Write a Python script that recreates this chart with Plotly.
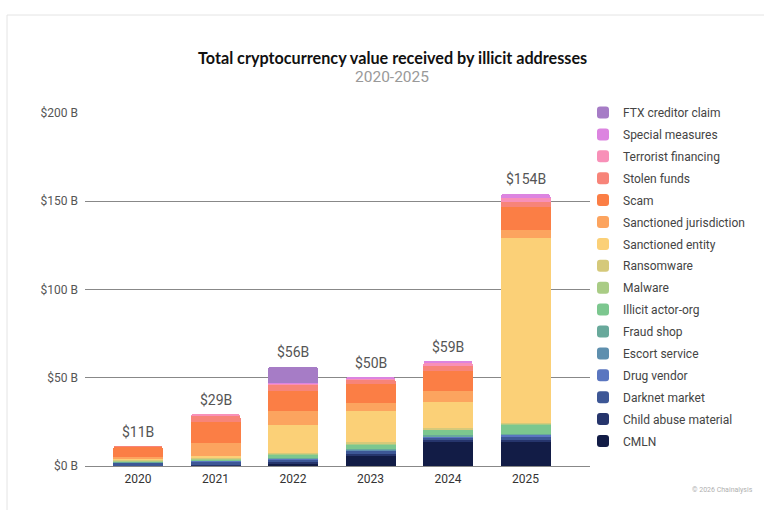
import plotly.graph_objects as go

years = ["2020", "2021", "2022", "2023", "2024", "2025"]

# Stack order: bottom (CMLN) to top (FTX creditor claim), values in $ billions
categories = [
    "CMLN", "Child abuse material", "Darknet market", "Drug vendor",
    "Escort service", "Fraud shop", "Illicit actor-org", "Malware",
    "Ransomware", "Sanctioned entity", "Sanctioned jurisdiction", "Scam",
    "Stolen funds", "Terrorist financing", "Special measures", "FTX creditor claim",
]

cmln = [0.1, 0.2, 1.5, 6.2, 14.0, 14.0]
child_abuse = [0.1, 0.1, 0.8, 0.6, 0.7, 0.6]
darknet = [1.7, 2.3, 1.5, 1.8, 1.6, 2.0]
drug_vendor = [0.2, 0.3, 0.3, 0.4, 0.4, 1.0]
escort = [0.05, 0.05, 0.1, 0.1, 0.1, 0.3]
fraud_shop = [0.2, 0.3, 0.5, 0.6, 0.6, 0.5]
illicit_actor = [0.3, 0.5, 1.8, 2.6, 3.0, 5.0]
malware = [0.2, 0.3, 0.5, 0.4, 0.4, 0.4]
ransomware = [0.7, 0.8, 0.5, 0.8, 0.8, 0.6]
sanctioned_entity = [0.9, 0.6, 15.8, 17.6, 14.6, 104.8]
sanctioned_jurisdiction = [0.6, 7.5, 7.8, 4.8, 6.3, 4.5]
scam = [5.8, 12.1, 11.5, 10.4, 11.5, 13.3]
stolen = [0.2, 3.8, 3.3, 2.5, 2.8, 2.8]
terrorist = [0.0, 0.1, 0.9, 1.0, 1.9, 1.9]
special = [0.0, 0.0, 0.1, 0.2, 0.3, 2.3]
ftx = [0.0, 0.0, 9.1, 0.0, 0.0, 0.0]

series = [cmln, child_abuse, darknet, drug_vendor, escort, fraud_shop,
          illicit_actor, malware, ransomware, sanctioned_entity,
          sanctioned_jurisdiction, scam, stolen, terrorist, special, ftx]

colors = [
    "#121c46", "#26356c", "#3d5796", "#5a76c0", "#5e8fae", "#68a99b",
    "#7cc78f", "#a9cc85", "#d5c97a", "#fbd077", "#fca45f", "#fb7e45",
    "#f78479", "#f890b8", "#dc84e0", "#a67cc6",
]

y_ticks = [0, 50, 100, 150, 200]
y_tick_labels = ["$0 B", "$50 B", "$100 B", "$150 B", "$200 B"]

FONT = "Roboto, Liberation Sans, sans-serif"

# Plot area in pixels: x 85..590, y 113..466
PX_L, PX_R, PX_T, PX_B = 85, 590, 113, 466


def px_x(px):
    return (px - PX_L) / (PX_R - PX_L)


def px_y(py):
    return (PX_B - py) / (PX_B - PX_T)


fig = go.Figure()
n = len(categories)
for i, (name, vals, col) in enumerate(zip(categories, series, colors)):
    fig.add_trace(go.Bar(
        x=years, y=vals, name=name, legendgroup=name,
        legendrank=100 + (n - i),
        marker=dict(color=col, line=dict(width=0)),
        hovertemplate="%{x}: $%{y}B<extra>" + name + "</extra>",
    ))

# Stack totals written above each bar
totals = [sum(s[i] for s in series) for i in range(len(years))]
for i, tot in enumerate(totals):
    fig.add_annotation(
        x=i, y=tot, text=f"${tot:.0f}B", showarrow=False,
        yanchor="bottom", yshift=5,
        font=dict(family=FONT, size=14, color="#555555"),
    )

# Title and subtitle
fig.add_annotation(
    xref="paper", yref="paper", x=px_x(392), y=px_y(57),
    xanchor="center", yanchor="middle", showarrow=False,
    text="<b>Total cryptocurrency value received by illicit addresses</b>",
    font=dict(family="Lato, sans-serif", size=16.2, color="#111111"),
)
fig.add_annotation(
    xref="paper", yref="paper", x=px_x(392), y=px_y(77),
    xanchor="center", yanchor="middle", showarrow=False,
    text="2020-2025",
    font=dict(family=FONT, size=15.5, color="#999999"),
)

# Footer credit
fig.add_annotation(
    xref="paper", yref="paper", x=px_x(755), y=px_y(490),
    xanchor="right", yanchor="middle", showarrow=False,
    text="© 2026 Chainalysis",
    font=dict(family=FONT, size=7, color="#b0b0b0"),
)

# Thin frame around the chart card
fig.add_shape(
    type="rect", xref="paper", yref="paper",
    x0=px_x(7), x1=px_x(790), y0=px_y(540), y1=px_y(15),
    line=dict(color="#e4e4e4", width=1), fillcolor="rgba(0,0,0,0)", layer="below",
)

fig.update_layout(
    width=764, height=510,
    margin=dict(l=PX_L, r=764 - PX_R, t=PX_T, b=510 - PX_B, pad=0,
                autoexpand=False),
    paper_bgcolor="white", plot_bgcolor="white",
    barmode="stack", bargap=0.355, barcornerradius=3,
    font=dict(family=FONT, size=12, color="#444444"),
    xaxis=dict(
        type="category", range=[-0.684, 5.832],
        showgrid=False, zeroline=False, showline=False,
        ticks="", tickfont=dict(family=FONT, size=12, color="#333333"),
        ticklabelstandoff=4,
    ),
    yaxis=dict(
        range=[0, 200], tickvals=y_ticks, ticktext=y_tick_labels,
        showgrid=True, gridcolor="#888888", gridwidth=1,
        zeroline=True, zerolinecolor="#888888", zerolinewidth=1,
        showline=False, ticks="", ticklabelstandoff=6,
        tickfont=dict(family=FONT, size=12, color="#555555"),
    ),
    legend=dict(
        xref="container", yref="container",
        x=583 / 764, y=1 - 98 / 510, xanchor="left", yanchor="top",
        traceorder="grouped", tracegroupgap=2.9, maxheight=400,
        font=dict(family=FONT, size=12, color="#444444"),
        bgcolor="rgba(0,0,0,0)", itemclick=False,
    ),
    showlegend=True,
)

fig.write_html("out.html")
